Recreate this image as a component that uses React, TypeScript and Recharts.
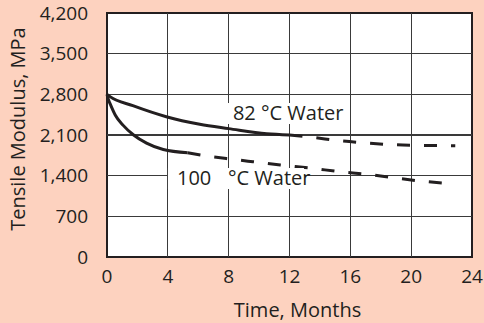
import React from 'react'
import { LineChart, Line, XAxis, YAxis, ReferenceDot } from 'recharts'

// 82 °C water, measured part (solid) then extrapolation (dashed)
const months82Solid = [0, 0.2, 1.7, 3.9, 6.1, 8, 10.5, 12]
const modulus82Solid = [2800, 2760, 2605, 2415, 2285, 2210, 2120, 2100]
const months82Dashed = [12, 13.5, 15.3, 17.1, 18.8, 20.6, 22.9]
const modulus82Dashed = [2100, 2060, 2002, 1962, 1933, 1922, 1915]

// 100 °C water
const months100Solid = [0, 0.08, 0.25, 0.55, 1.05, 1.75, 2.6, 3.7, 5.3]
const modulus100Solid = [2800, 2720, 2610, 2440, 2270, 2100, 1960, 1850, 1795]
const months100Dashed = [5.3, 6.5, 8.3, 9.6, 11.4, 13.5, 15.3, 17.1, 18.8, 20.6, 22.9]
const modulus100Dashed = [1795, 1740, 1680, 1640, 1585, 1527, 1468, 1423, 1365, 1308, 1255]

const xTicks = [0, 4, 8, 12, 16, 20, 24]
const yTicks = [0, 700, 1400, 2100, 2800, 3500, 4200]
const xMax = 24
const yMax = 4200

const ink = '#231f20'
const gridColor = '#3a3a3a'
const font = '"Open Sans", sans-serif'

const W = 484
const H = 323
const margin = { top: 13, right: 12, left: 0, bottom: 0 }
const yAxisWidth = 107
const xAxisHeight = 66

// merge every series into one table keyed by month
function buildRows() {
  const series: [string, number[], number[]][] = [
    ['s82', months82Solid, modulus82Solid],
    ['d82', months82Dashed, modulus82Dashed],
    ['s100', months100Solid, modulus100Solid],
    ['d100', months100Dashed, modulus100Dashed],
  ]
  const map = new Map<number, any>()
  series.forEach(([key, ms, vs]) => {
    ms.forEach((m, i) => {
      const row = map.get(m) ?? { m }
      row[key] = vs[i]
      map.set(m, row)
    })
  })
  return Array.from(map.values()).sort((a, b) => a.m - b.m)
}
const rows = buildRows()

const label82 = (props: any) => {
  const { x, y } = props.viewBox
  return (
    <g>
      <rect x={x - 8} y={y - 17} width={122} height={21} fill="#fff" />
      <text x={x} y={y} fill={ink} fontSize={20} fontFamily={font}>
        82 °C Water
      </text>
    </g>
  )
}

const label100 = (props: any) => {
  const { x, y } = props.viewBox
  return (
    <g>
      <rect x={x - 9} y={y - 17} width={136} height={21} fill="#fff" />
      <text x={x} y={y} fill={ink} fontSize={20} fontFamily={font}>
        100
      </text>
      <text x={x + 51} y={y} fill={ink} fontSize={20} fontFamily={font}>
        °C Water
      </text>
    </g>
  )
}

const yTitle = () => (
  <text
    x={17}
    y={129}
    transform="rotate(-90 17 129)"
    textAnchor="middle"
    dominantBaseline="central"
    fill={ink}
    fontSize={20}
    fontFamily={font}
  >
    Tensile Modulus, MPa
  </text>
)

export default function App() {
  const lineProps = {
    type: 'monotone' as const,
    stroke: ink,
    strokeWidth: 3,
    dot: false,
    connectNulls: true,
    isAnimationActive: false,
  }
  const plotX = margin.left + yAxisWidth
  const plotY = margin.top
  const plotW = W - margin.left - margin.right - yAxisWidth
  const plotH = H - margin.top - margin.bottom - xAxisHeight
  const border = 2.5
  const gw = 1.3
  return (
    <div style={{ background: '#fdd2bf', width: W, height: H, position: 'relative' }}>
      <style>{'body{margin:0}'}</style>
      {/* plot frame: white panel with dark border behind the svg */}
      <div
        style={{
          position: 'absolute',
          boxSizing: 'border-box',
          left: plotX - border / 2,
          top: plotY - border / 2,
          width: plotW + border,
          height: plotH + border,
          background: '#fff',
          border: `${border}px solid ${ink}`,
        }}
      />
      {/* grid lines at the inner ticks */}
      {yTicks.slice(1, -1).map((t) => (
        <div
          key={'h' + t}
          style={{
            position: 'absolute',
            left: plotX,
            width: plotW,
            top: plotY + plotH * (1 - t / yMax) - gw / 2,
            height: gw,
            background: gridColor,
          }}
        />
      ))}
      {xTicks.slice(1, -1).map((t) => (
        <div
          key={'v' + t}
          style={{
            position: 'absolute',
            top: plotY,
            height: plotH,
            left: plotX + (plotW * t) / xMax - gw / 2,
            width: gw,
            background: gridColor,
          }}
        />
      ))}
      <LineChart width={W} height={H} data={rows} margin={margin}>
        <XAxis
          dataKey="m"
          type="number"
          domain={[0, xMax]}
          ticks={xTicks}
          interval={0}
          height={xAxisHeight}
          tickSize={0}
          tickMargin={13}
          axisLine={false}
          tick={{ fill: ink, fontSize: 19, fontFamily: font }}
          label={{ value: 'Time, Months', position: 'insideBottom', offset: 6, dx: 8, fill: ink, fontSize: 20, fontFamily: font }}
        />
        <YAxis
          type="number"
          domain={[0, yMax]}
          ticks={yTicks}
          interval={0}
          width={yAxisWidth}
          tickSize={0}
          tickMargin={19}
          axisLine={false}
          tickFormatter={(v) => Number(v).toLocaleString('en-US')}
          tick={{ fill: ink, fontSize: 19, fontFamily: font }}
          label={{ content: yTitle }}
        />
        <ReferenceDot x={8.28} y={2358} r={0} label={{ content: label82 }} />
        <ReferenceDot x={4.6} y={1239} r={0} label={{ content: label100 }} />
        <Line {...lineProps} dataKey="s82" />
        <Line {...lineProps} dataKey="d82" strokeDasharray="13 14" />
        <Line {...lineProps} dataKey="s100" />
        <Line {...lineProps} dataKey="d100" strokeDasharray="13 14" />
      </LineChart>
    </div>
  )
}
